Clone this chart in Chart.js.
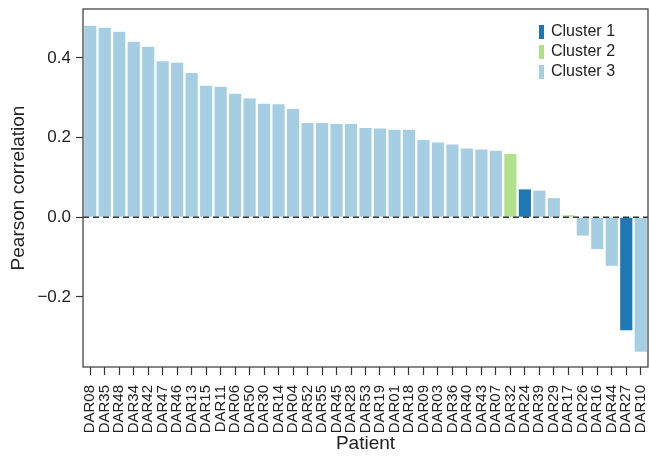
<!DOCTYPE html>
<html>
<head>
<meta charset="utf-8">
<script src="https://cdn.jsdelivr.net/npm/chart.js@4"></script>
<style>
  html, body { margin: 0; padding: 0; background: #fff; }
  #wrap { width: 649px; height: 456px; }
</style>
</head>
<body>
<div id="wrap"><canvas id="graph"></canvas></div>
<script>
var patients = ["DAR08", "DAR35", "DAR48", "DAR34", "DAR42", "DAR47", "DAR46", "DAR13", "DAR15", "DAR11",
  "DAR06", "DAR50", "DAR30", "DAR14", "DAR04", "DAR52", "DAR55", "DAR45", "DAR28", "DAR53",
  "DAR19", "DAR01", "DAR18", "DAR09", "DAR03", "DAR36", "DAR40", "DAR43", "DAR07", "DAR32",
  "DAR24", "DAR39", "DAR29", "DAR17", "DAR26", "DAR16", "DAR44", "DAR27", "DAR10"];
var correlation = [0.481, 0.476, 0.466, 0.441, 0.428, 0.392, 0.388, 0.362, 0.330, 0.328,
  0.310, 0.298, 0.285, 0.284, 0.272, 0.237, 0.237, 0.234, 0.234, 0.224,
  0.223, 0.220, 0.220, 0.194, 0.188, 0.183, 0.173, 0.170, 0.167, 0.159,
  0.070, 0.067, 0.048, 0.005, -0.046, -0.080, -0.122, -0.284, -0.338];
var cluster = [3, 3, 3, 3, 3, 3, 3, 3, 3, 3,
  3, 3, 3, 3, 3, 3, 3, 3, 3, 3,
  3, 3, 3, 3, 3, 3, 3, 3, 3, 2,
  1, 3, 3, 2, 3, 3, 3, 1, 3];
var clusterNames = ["Cluster 1", "Cluster 2", "Cluster 3"];
var clusterColors = ["#1f78b4", "#b2df8a", "#a6cee3"];
var yTicks = [-0.2, 0.0, 0.2, 0.4];

Chart.defaults.font.family = "'Liberation Sans', Arial, sans-serif";
Chart.defaults.color = "#222";

var datasets = clusterNames.map(function (name, k) {
  return {
    label: name,
    data: correlation.map(function (v, i) { return cluster[i] === k + 1 ? v : null; }),
    backgroundColor: clusterColors[k],
    borderWidth: 0,
    grouped: false,
    categoryPercentage: 1,
    barPercentage: 0.84
  };
});

// box round the plot, dashed zero line, legend in the corner
var extras = {
  id: "extras",
  afterDatasetsDraw: function (chart) {
    var c = chart.ctx, a = chart.chartArea;
    var y0 = chart.scales.y.getPixelForValue(0);
    c.save();
    c.strokeStyle = "#333";
    c.lineWidth = 1.3;
    c.setLineDash([6, 4]);
    c.beginPath();
    c.moveTo(a.left, y0);
    c.lineTo(a.right, y0);
    c.stroke();
    c.setLineDash([]);
    c.strokeStyle = "#444";
    c.strokeRect(a.left, a.top, a.right - a.left, a.bottom - a.top);

    c.font = "16px 'Liberation Sans', Arial, sans-serif";
    c.textBaseline = "middle";
    chart.data.datasets.forEach(function (ds, k) {
      var yy = 32 + k * 20;
      c.fillStyle = ds.backgroundColor;
      c.fillRect(539, yy - 7, 5, 14);
      c.fillStyle = "#222";
      c.fillText(ds.label, 551, yy);
    });
    c.restore();
  }
};

var chart = new Chart(document.getElementById("graph").getContext("2d"), {
  type: "bar",
  data: { labels: patients, datasets: datasets },
  options: {
    responsive: true,
    maintainAspectRatio: false,
    animation: false,
    layout: { padding: { top: 9, right: 1, left: 0, bottom: 0 } },
    plugins: { legend: { display: false }, tooltip: { enabled: false } },
    scales: {
      x: {
        offset: true,
        grid: { drawOnChartArea: false, offset: false, tickLength: 8, tickColor: "#333", tickWidth: 1.2 },
        border: { display: false },
        ticks: { autoSkip: false, maxRotation: 90, minRotation: 90, padding: 10, font: { size: 15 }, color: "#222" },
        title: { display: true, text: "Patient", font: { size: 19 }, color: "#222", padding: { top: 0, bottom: 1 } },
        afterFit: function (s) { s.height = 89; s.paddingLeft = 0; s.paddingRight = 0; }
      },
      y: {
        min: -0.376,
        max: 0.523,
        grid: { drawOnChartArea: false, tickLength: 7, tickColor: "#333", tickWidth: 1.2 },
        border: { display: false },
        afterBuildTicks: function (s) { s.ticks = yTicks.map(function (v) { return { value: v }; }); },
        ticks: {
          padding: 5,
          font: { size: 17 },
          color: "#222",
          callback: function (v) { return (v < 0 ? "\u2212" : "") + Math.abs(v).toFixed(1); }
        },
        title: { display: true, text: "Pearson correlation", font: { size: 19 }, color: "#222", padding: { top: 7, bottom: 0 } },
        afterFit: function (s) { s.width = 83; s.paddingTop = 0; s.paddingBottom = 0; }
      }
    }
  },
  plugins: [extras]
});
</script>
</body>
</html>
